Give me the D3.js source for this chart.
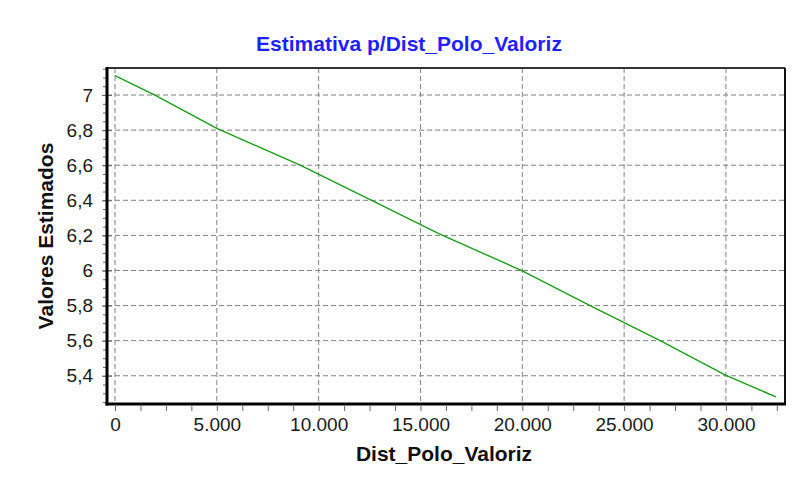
<!DOCTYPE html>
<html>
<head>
<meta charset="utf-8">
<script src="https://cdn.jsdelivr.net/npm/d3@7"></script>
<style>
  body { margin: 0; background: #fff; }
  text { font-family: "Liberation Sans", Arial, sans-serif; }
</style>
</head>
<body>
<div id="chart"></div>
<script>
var width = 806,
    height = 484;

// dados
var distancias = [0, 1960, 5000, 9090, 12600, 15900, 20000, 23330, 26770, 30000, 32450];
var estimados = [7.11, 7.0, 6.81, 6.6, 6.4, 6.21, 5.998, 5.8, 5.6, 5.402, 5.28];
var xTicks = [0, 5000, 10000, 15000, 20000, 25000, 30000];
var yTicks = [5.4, 5.6, 5.8, 6, 6.2, 6.4, 6.6, 6.8, 7];
var titulo = "Estimativa p/Dist_Polo_Valoriz";
var xTitulo = "Dist_Polo_Valoriz";
var yTitulo = "Valores Estimados";

var margin = {top: 68, right: 21, bottom: 80, left: 107};
var w = width - margin.left - margin.right,
    h = height - margin.top - margin.bottom;

var svg = d3.select("#chart")
    .append("svg")
    .attr("width", width)
    .attr("height", height);

var x = d3.scaleLinear().domain([-393, 32900]).range([0, w]);
var y = d3.scaleLinear().domain([5.239, 7.154]).range([h, 0]);

var ptBR = d3.formatLocale({decimal: ",", thousands: ".", grouping: [3], currency: ["R$", ""]});
var fmtX = ptBR.format(",.0f");
var fmtY = function(d) { return ptBR.format(",.1~f")(d); };

var g = svg.append("g")
    .attr("transform", "translate(" + margin.left + "," + margin.top + ")");

// grade
g.selectAll(".gx")
    .data(xTicks)
    .enter().append("line")
    .attr("x1", function(d) { return x(d); })
    .attr("x2", function(d) { return x(d); })
    .attr("y1", 0)
    .attr("y2", h)
    .attr("stroke", "#808080")
    .attr("stroke-dasharray", "5,3");

g.selectAll(".gy")
    .data(yTicks)
    .enter().append("line")
    .attr("x1", 0)
    .attr("x2", w)
    .attr("y1", function(d) { return y(d); })
    .attr("y2", function(d) { return y(d); })
    .attr("stroke", "#808080")
    .attr("stroke-dasharray", "5,3");

// eixo x
var xMinor = d3.range(0, 32600, 1250);
var xAxis = g.append("g")
    .attr("transform", "translate(0," + h + ")")
    .call(d3.axisBottom(x).tickValues(xMinor).tickSize(5).tickFormat(""));
xAxis.select(".domain").remove();
xAxis.selectAll("line").attr("stroke", "#666").attr("transform", "translate(0,2)");

var xLabels = g.append("g")
    .attr("transform", "translate(0," + h + ")")
    .call(d3.axisBottom(x).tickValues(xTicks).tickSize(0).tickPadding(14).tickFormat(fmtX));
xLabels.select(".domain").remove();
xLabels.selectAll("text")
    .attr("font-size", "19px")
    .attr("font-family", "Liberation Sans, Arial, sans-serif")
    .attr("fill", "#1a1a1a");

// eixo y
var yMinor = d3.range(5.25, 7.16, 0.05);
var yAxis = g.append("g")
    .call(d3.axisLeft(y).tickValues(yMinor).tickSize(3).tickFormat(""));
yAxis.select(".domain").remove();
yAxis.selectAll("line").attr("stroke", "#666").attr("transform", "translate(-1,0)");

var yAxisMaj = g.append("g")
    .call(d3.axisLeft(y).tickValues(yTicks).tickSize(5).tickPadding(9).tickFormat(fmtY));
yAxisMaj.select(".domain").remove();
yAxisMaj.selectAll("line").attr("stroke", "#666").attr("x2", -5).attr("x1", 5);
yAxisMaj.selectAll("text")
    .attr("font-size", "19px")
    .attr("font-family", "Liberation Sans, Arial, sans-serif")
    .attr("fill", "#1a1a1a");

// linha
var line = d3.line()
    .x(function(d, i) { return x(distancias[i]); })
    .y(function(d) { return y(d); });

g.append("path")
    .datum(estimados)
    .attr("d", line)
    .attr("fill", "none")
    .attr("stroke", "#1a9c1a")
    .attr("stroke-width", 1.4);

// moldura
g.append("line").attr("x1", 0).attr("x2", w).attr("y1", 0).attr("y2", 0)
    .attr("stroke", "#333").attr("stroke-width", 2);
g.append("line").attr("x1", w).attr("x2", w).attr("y1", 0).attr("y2", h)
    .attr("stroke", "#111").attr("stroke-width", 2);
g.append("line").attr("x1", 0).attr("x2", 0).attr("y1", -1).attr("y2", h + 1.5)
    .attr("stroke", "#000").attr("stroke-width", 3);
g.append("line").attr("x1", -1.5).attr("x2", w + 1).attr("y1", h).attr("y2", h)
    .attr("stroke", "#000").attr("stroke-width", 3);

// titulos
svg.append("text")
    .attr("x", 409)
    .attr("y", 51)
    .attr("text-anchor", "middle")
    .attr("font-size", "21px")
    .attr("font-weight", "bold")
    .attr("fill", "#1f1fff")
    .text(titulo);

svg.append("text")
    .attr("x", 444)
    .attr("y", 461)
    .attr("text-anchor", "middle")
    .attr("font-size", "21px")
    .attr("font-weight", "bold")
    .attr("fill", "#111")
    .text(xTitulo);

svg.append("text")
    .attr("transform", "translate(53,236) rotate(-90)")
    .attr("text-anchor", "middle")
    .attr("font-size", "21px")
    .attr("font-weight", "bold")
    .attr("fill", "#111")
    .text(yTitulo);
</script>
</body>
</html>
